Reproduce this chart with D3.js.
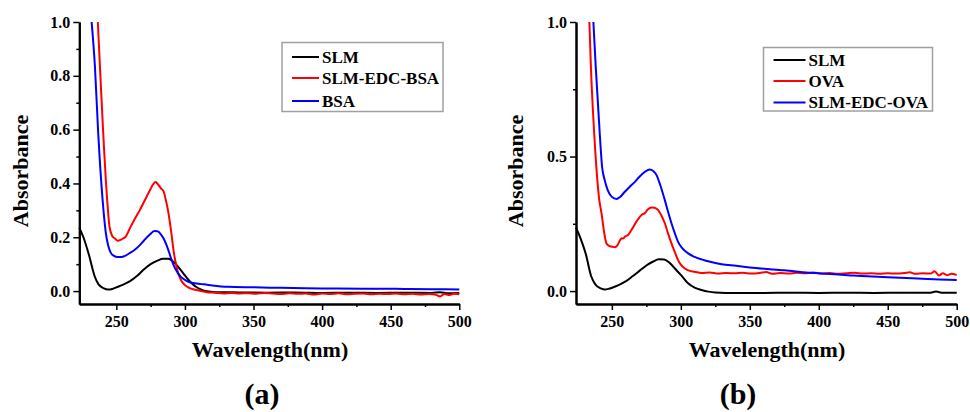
<!DOCTYPE html>
<html>
<head>
<meta charset="utf-8">
<script src="https://cdn.jsdelivr.net/npm/d3@7"></script>
<style>
  body { margin: 0; background: #fff; }
  text { font-family: "Liberation Serif", "Times New Roman", serif; font-weight: bold; }
</style>
</head>
<body>
<svg id="chart" width="970" height="412"></svg>
<script>
// ---- data: [wavelength nm, absorbance] ----
const slmA = [[223,0.236],[226,0.2],[230,0.135],[234,0.058],[237,0.025],[241,0.01],[244,0.006],[247,0.008],[250,0.014],[255,0.024],[260,0.037],[265,0.056],[270,0.08],[275,0.1],[280,0.113],[284,0.12],[288,0.12],[292,0.107],[296,0.084],[300,0.058],[304,0.034],[308,0.016],[312,0.005],[316,-0.001],[322,-0.004],[340,-0.005],[360,-0.006],[380,-0.005],[400,-0.007],[420,-0.006],[440,-0.007],[460,-0.006],[480,-0.007],[486,-0.004],[492,-0.008],[500,-0.007]]
const edcBsaA = [[236.5,1.0],[238,0.84],[240.4,0.59],[243.3,0.34],[245,0.24],[247,0.205],[249,0.195],[251,0.187],[253,0.19],[255,0.196],[256.5,0.2],[258,0.213],[260,0.235],[263,0.264],[267,0.3],[270,0.33],[274,0.37],[277,0.398],[278.5,0.405],[280,0.399],[282.5,0.382],[284.5,0.37],[286,0.34],[288,0.29],[290,0.22],[292,0.14],[293.5,0.1],[295,0.068],[297,0.042],[300,0.022],[304,0.01],[310,0.002],[316,-0.004],[322,-0.006],[328,-0.009],[334,-0.007],[340,-0.009],[346,-0.008],[352,-0.01],[358,-0.007],[364,-0.009],[370,-0.011],[376,-0.008],[382,-0.01],[388,-0.009],[394,-0.013],[400,-0.009],[406,-0.011],[412,-0.008],[418,-0.012],[424,-0.01],[430,-0.009],[436,-0.012],[442,-0.01],[448,-0.011],[454,-0.009],[460,-0.012],[466,-0.01],[472,-0.013],[478,-0.011],[483,-0.014],[486,-0.02],[489,-0.011],[493,-0.015],[496,-0.01],[500,-0.012]]
const bsaA = [[232,1.0],[234.4,0.834],[236.8,0.586],[240,0.338],[242.4,0.214],[244,0.17],[246,0.142],[248,0.132],[251,0.127],[254,0.127],[256,0.13],[260,0.142],[263,0.152],[267,0.17],[270.5,0.19],[274,0.208],[277.8,0.223],[280,0.222],[282.6,0.21],[285,0.19],[287.4,0.16],[290,0.12],[292.3,0.09],[295,0.066],[297,0.053],[300,0.042],[304,0.032],[310,0.027],[314,0.025],[320,0.021],[331,0.016],[350,0.014],[370,0.012],[400,0.01],[430,0.009],[460,0.008],[480,0.007],[500,0.006]]

const slmB = [[224,0.236],[227,0.2],[231,0.14],[235,0.055],[238,0.025],[242,0.01],[245,0.006],[248,0.009],[252,0.016],[256,0.025],[260,0.036],[265,0.055],[270,0.075],[275,0.095],[280,0.11],[284,0.118],[288,0.117],[292,0.104],[296,0.082],[300,0.06],[305,0.03],[310,0.013],[315,0.004],[320,-0.002],[325,-0.005],[340,-0.007],[360,-0.007],[380,-0.006],[400,-0.007],[420,-0.006],[440,-0.007],[460,-0.006],[480,-0.006],[485,-0.002],[490,-0.006],[500,-0.006]]
const ovaB = [[233.7,1.0],[234.8,0.834],[237.2,0.586],[240.9,0.338],[242.5,0.289],[244.5,0.215],[246.1,0.177],[248,0.168],[250,0.165],[252.2,0.163],[254,0.17],[256,0.19],[257,0.196],[258,0.195],[259.4,0.202],[262,0.21],[264.2,0.227],[268,0.26],[271.5,0.283],[274,0.29],[276,0.303],[278.7,0.311],[281,0.31],[283.6,0.301],[286,0.28],[288.4,0.252],[291,0.21],[293.2,0.177],[296,0.14],[298,0.115],[300,0.098],[302.9,0.084],[306,0.076],[310,0.072],[315,0.067],[321,0.069],[327,0.065],[333,0.067],[339,0.066],[345,0.068],[351,0.065],[357,0.067],[362,0.071],[366,0.064],[372,0.067],[378,0.065],[384,0.068],[390,0.066],[396,0.069],[402,0.065],[408,0.067],[414,0.064],[420,0.066],[426,0.068],[432,0.065],[438,0.066],[444,0.064],[450,0.066],[456,0.065],[462,0.067],[466,0.07],[470,0.064],[476,0.066],[481,0.065],[484,0.074],[487,0.058],[490,0.066],[493,0.059],[496,0.064],[500,0.06]]
const edcOvaB = [[236.6,1.0],[238.3,0.834],[241.2,0.586],[242.9,0.462],[244.8,0.413],[247,0.375],[249.8,0.351],[253.4,0.342],[256,0.35],[259.4,0.369],[263,0.388],[266.7,0.406],[270,0.425],[273.9,0.443],[277.5,0.452],[280,0.446],[282.4,0.431],[285,0.395],[288.4,0.338],[291,0.29],[293.2,0.252],[296,0.21],[298,0.183],[301,0.16],[305.3,0.14],[310,0.127],[315,0.118],[322,0.108],[329.5,0.1],[340,0.094],[350,0.088],[375,0.077],[400,0.066],[425,0.058],[450,0.051],[475,0.046],[500,0.041]]

const xTicks = [250, 300, 350, 400, 450, 500]
const xMinor = [275, 325, 375, 425, 475]
const yTicksA = [0, 0.2, 0.4, 0.6, 0.8, 1.0]
const yMinorA = [0.1, 0.3, 0.5, 0.7, 0.9]
const yTicksB = [0, 0.5, 1.0]
const yMinorB = [0.25, 0.75]
const namesA = ["SLM", "SLM-EDC-BSA", "BSA"]
const namesB = ["SLM", "OVA", "SLM-EDC-OVA"]
const colors = ["#000000", "#ff0000", "#0000ff"]

const svg = d3.select("#chart")

function drawPanel (opt) {
    const x = d3.scaleLinear().domain(opt.xDomain).range([opt.left, opt.right])
    const y = d3.scaleLinear().domain([-0.048, 1.0]).range([304, 22])
    const g = svg.append("g")

    const line = d3.line()
        .x(d => x(d[0]))
        .y(d => y(d[1]))
        .curve(d3.curveMonotoneX)

    opt.series.forEach((s, i) => {
        g.append("path")
            .datum(s)
            .attr("fill", "none")
            .attr("stroke", colors[i])
            .attr("stroke-width", 2)
            .attr("stroke-linejoin", "round")
            .attr("d", line)
    })

    // minor ticks first, then major axes on top
    g.append("g")
        .attr("transform", "translate(0,304)")
        .call(d3.axisBottom(x).tickValues(xMinor).tickSize(3).tickSizeOuter(0).tickFormat(""))
    g.append("g")
        .attr("transform", "translate(" + opt.left + ",0)")
        .call(d3.axisLeft(y).tickValues(opt.yMinor).tickSize(3).tickSizeOuter(0).tickFormat(""))

    const ax = g.append("g")
        .attr("transform", "translate(0,304)")
        .call(d3.axisBottom(x).tickValues(xTicks).tickSize(6).tickSizeOuter(0).tickPadding(5))
    const ay = g.append("g")
        .attr("transform", "translate(" + opt.left + ",0)")
        .call(d3.axisLeft(y).tickValues(opt.yTicks).tickSize(6).tickSizeOuter(0).tickPadding(3).tickFormat(d3.format(".1f")))

    g.selectAll(".domain").attr("stroke-width", 2)
    g.selectAll(".tick line").attr("stroke-width", 1.5)
    ax.selectAll("text").attr("font-size", 16).attr("font-family", null).attr("fill", "#000")
    ay.selectAll("text").attr("font-size", 16).attr("font-family", null).attr("fill", "#000")
    ax.selectAll(".tick text").attr("dy", "0.72em")

    g.append("text")
        .attr("transform", "translate(" + opt.yLabelX + ",171) rotate(-90)")
        .attr("text-anchor", "middle")
        .attr("font-size", 22)
        .text("Absorbance")

    g.append("text")
        .attr("x", opt.xLabelX)
        .attr("y", 357)
        .attr("text-anchor", "middle")
        .attr("font-size", 22)
        .text("Wavelength(nm)")

    g.append("text")
        .attr("x", opt.tagX)
        .attr("y", 404)
        .attr("text-anchor", "middle")
        .attr("font-size", 30)
        .text(opt.tag)

    // legend
    const lg = opt.legend
    g.append("rect")
        .attr("x", lg.x).attr("y", lg.y)
        .attr("width", lg.w).attr("height", lg.h)
        .attr("fill", "#fff")
        .attr("stroke", "#a0a0a0")
        .attr("stroke-width", 1.5)
    opt.names.forEach((n, i) => {
        const ry = lg.rows[i]
        g.append("line")
            .attr("x1", lg.x + 10).attr("x2", lg.x + 10 + lg.lineLen)
            .attr("y1", ry).attr("y2", ry)
            .attr("stroke", colors[i]).attr("stroke-width", 2)
        g.append("text")
            .attr("x", lg.x + 13 + lg.lineLen)
            .attr("y", ry)
            .attr("dy", "0.35em")
            .attr("font-size", 17)
            .text(n)
    })
}

drawPanel({
    xDomain: [223, 500], left: 79.3, right: 459.3,
    series: [slmA, edcBsaA, bsaA],
    yTicks: yTicksA, yMinor: yMinorA,
    names: namesA,
    yLabelX: 28, xLabelX: 270, tagX: 262, tag: "(a)",
    legend: {x: 282, y: 42.5, w: 161, h: 69, lineLen: 27, rows: [57, 78, 101]}
})

drawPanel({
    xDomain: [224, 500], left: 576, right: 956.7,
    series: [slmB, ovaB, edcOvaB],
    yTicks: yTicksB, yMinor: yMinorB,
    names: namesB,
    yLabelX: 523, xLabelX: 767, tagX: 738, tag: "(b)",
    legend: {x: 763.5, y: 47.5, w: 169, h: 63.5, lineLen: 32, rows: [60, 81, 102.5]}
})
</script>
</body>
</html>
